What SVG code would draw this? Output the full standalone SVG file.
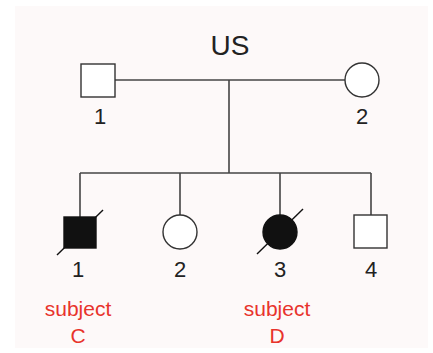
<svg xmlns="http://www.w3.org/2000/svg" width="433" height="353" viewBox="0 0 433 353">
<style>
.ln{stroke:#444;stroke-width:1.6;fill:none}
.sym{stroke:#333;stroke-width:1.4;fill:#fff}
.aff{stroke:#111;stroke-width:1.4;fill:#111}
.sl{stroke:#111;stroke-width:1.4}
.num{font-family:"Liberation Sans",Arial,sans-serif;font-size:22px;fill:#222;text-anchor:middle}
.ttl{font-family:"Liberation Sans",Arial,sans-serif;font-size:28px;fill:#222;text-anchor:middle}
.red{font-family:"Liberation Sans",Arial,sans-serif;font-size:21px;fill:#e8332c;text-anchor:middle}
</style>
<rect x="0" y="0" width="433" height="353" fill="#fff"/>
<rect x="15" y="6" width="413" height="342" fill="#fdf9f9"/>
<text class="ttl" x="230" y="55">US</text>
<g id="connectors">
<line class="ln" x1="115" y1="80" x2="345" y2="80"/>
<line class="ln" x1="229" y1="80" x2="229" y2="173"/>
<line class="ln" x1="80" y1="173" x2="371" y2="173"/>
<line class="ln" x1="80" y1="173" x2="80" y2="217"/>
<line class="ln" x1="180" y1="173" x2="180" y2="215"/>
<line class="ln" x1="280" y1="173" x2="280" y2="215"/>
<line class="ln" x1="371" y1="173" x2="371" y2="215"/>
</g>
<g id="I-1">
<rect class="sym" x="81" y="64" width="34" height="33"/>
<text class="num" x="100" y="124">1</text>
</g>
<g id="I-2">
<circle class="sym" cx="362" cy="80" r="17"/>
<text class="num" x="362" y="124">2</text>
</g>
<g id="II-1">
<rect class="aff" x="64" y="217" width="32" height="31"/>
<line class="sl" x1="57" y1="255" x2="103" y2="210"/>
<text class="num" x="78" y="277">1</text>
<text class="red" x="78" y="316">subject</text>
<text class="red" x="78" y="343">C</text>
</g>
<g id="II-2">
<circle class="sym" cx="180" cy="232" r="17"/>
<text class="num" x="180" y="277">2</text>
</g>
<g id="II-3">
<circle class="aff" cx="280" cy="232" r="17"/>
<line class="sl" x1="257" y1="254" x2="303" y2="209"/>
<text class="num" x="280" y="277">3</text>
<text class="red" x="277" y="316">subject</text>
<text class="red" x="277" y="343">D</text>
</g>
<g id="II-4">
<rect class="sym" x="354" y="215" width="33" height="33"/>
<text class="num" x="371" y="277">4</text>
</g>
</svg>
